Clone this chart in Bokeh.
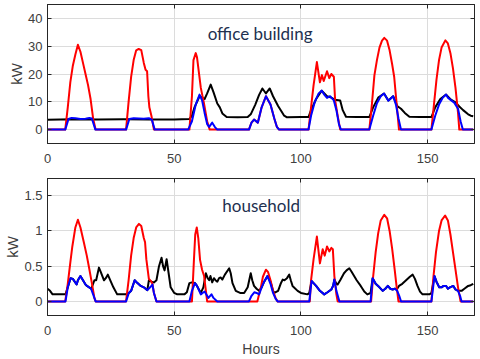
from bokeh.plotting import figure
from bokeh.layouts import column
from bokeh.models import (Range1d, FixedTicker, LinearAxis, Label, NumeralTickFormatter,
                          CustomJSTickFormatter)
from bokeh.embed import file_html
from bokeh.resources import INLINE

# ---------------- data ----------------
hour_ticks = [0, 50, 100, 150]
office_ticks = [0, 10, 20, 30, 40]
household_ticks = [0, 0.5, 1, 1.5]
panel_titles = ["office building", "household"]

# office building: load (black)
office_load_h = [0, 10, 20, 30, 40, 50, 56, 57, 58, 60, 62, 63, 64.4, 65.5, 67, 68, 69, 70.7, 75, 79,
                 80.2, 82, 83.5, 84.8, 86.2, 87.7, 89, 91, 93.4, 94.5, 100, 103, 104, 106, 108.2, 110.3,
                 112, 113.5, 115.5, 116.5, 117.8, 122, 127, 128.5, 130.5, 132.8, 134.5, 136.4, 138,
                 139.5, 141, 142.8, 147, 151.5, 153, 155, 157.3, 159.2, 161, 162.5, 164, 166, 167, 168]
office_load_kw = [3.5, 3.7, 3.6, 3.7, 3.6, 3.6, 3.8, 5, 8, 12, 11, 13, 16.2, 13.5, 9.4, 8, 5.8, 4.5, 4.4, 4.5,
                  5.5, 9, 12.5, 14.8, 13, 14.8, 12, 8.5, 5, 4.4, 4.5, 4.5, 7, 11, 14, 12,
                  11.5, 10.7, 10.5, 7, 4.6, 4.5, 4.5, 8, 11.5, 13, 10.5, 12, 8.5,
                  7.5, 6, 4.6, 4.5, 4.5, 8, 11, 12.6, 10.8, 9.8, 8.3, 7, 5.5, 5, 4.8]

# office building: PV generation (red)
office_pv_h = [0, 7, 8, 9, 10, 11, 12, 13, 14, 15, 16, 17, 18, 19,
               31, 32, 33, 34, 35, 36, 37, 38, 38.7, 39.3, 39.8, 40.2, 41, 42,
               56, 57, 57.6, 58.5, 59, 60.5, 61.7, 63, 64,
               79.5, 80.5, 81.5, 83, 84.5, 86.2, 88, 89.5, 90.5, 91.4,
               103, 104, 105, 106.3, 107.5, 108.3, 109, 110.3, 111.2, 112, 113, 113.5, 114.5, 115.5,
               127, 128, 129, 130, 131, 132, 132.9, 134, 135, 136, 136.8, 137.5, 138, 138.7,
               151.5, 152.5, 153.5, 154.5, 155.5, 157, 158, 159, 160, 161, 162, 162.5, 168]
office_pv_kw = [0, 0, 8, 17, 23, 27, 30.5, 28, 24, 20, 16, 11, 4, 0,
                0, 10, 19, 25, 28.5, 29, 28.6, 24, 21.5, 21, 12, 8, 5, 0,
                0, 12, 25, 27.5, 26, 15, 9.7, 3, 0,
                0, 2.5, 3.6, 2.5, 8, 12, 9, 4, 1, 0,
                0, 8, 16, 24.3, 17, 19.6, 17.5, 21, 18.5, 20, 19, 10.6, 5, 0,
                0, 9, 19.5, 25, 29.5, 32, 33, 32, 28.5, 23.5, 19, 12, 7, 0,
                0, 9, 18, 25, 29.5, 32.1, 31, 27.5, 22, 15, 6, 0, 0]

# office building: self-consumption (blue)
office_self_h = [0, 7, 8.3, 9.5, 11, 13, 15, 16.5, 17.5, 18.9,
                 31, 32.3, 34, 36, 38, 40, 41.2, 42.3,
                 55.5, 57, 58.5, 60, 61, 62, 63, 63.8, 65, 66, 67,
                 79.5, 80.5, 81.5, 83, 84.5, 86.2, 88, 89.5, 90.5, 91.4,
                 103, 104, 105.5, 107, 108.2, 109.3, 110.3, 111.5, 113, 114, 115, 115.8,
                 127, 128.5, 130, 131.5, 132.8, 134.5, 136.4, 137.5, 138.5, 139.5,
                 151.5, 153, 154.5, 156, 157.3, 158, 159.2, 160.5, 162, 163, 163.9, 168]
office_self_kw = [0, 0, 3.8, 4.2, 4.1, 3.8, 3.9, 4.2, 4, 0,
                  0, 3.8, 4.1, 4, 3.9, 4.1, 3.5, 0,
                  0, 3, 9, 12.6, 10.5, 6, 2, 1, 2.5, 1, 0,
                  0, 2.5, 3.6, 2.5, 8, 12, 9, 4, 1, 0,
                  0, 5, 10, 13, 14, 12.5, 11.4, 12, 10.5, 7, 2, 0,
                  0, 5, 9.5, 12, 13, 10.4, 12, 9, 4, 0,
                  0, 5, 9, 11.5, 12.6, 11.5, 10.6, 9.7, 7.5, 3, 0, 0]

# household: load (black)
house_load_h = [0, 1, 2, 4, 7.1, 8, 9.1, 10, 11.5, 12, 13, 14, 15, 15.6, 17.2, 17.7, 18.5, 19.2, 20.3, 21,
                22.3, 23, 23.8, 25, 26, 27.5, 29, 31, 32.1, 33, 34.4, 35.5, 36.8, 38, 39.4, 40, 41, 42,
                43, 44, 45, 45.6, 46.2, 47, 47.8, 48.6, 50, 51.2, 54, 55, 56, 57, 58.2, 59, 60.5, 61.5,
                62.5, 63.2, 63.8, 64.3, 65, 65.7, 66.3, 67, 67.7, 68.3, 69, 70, 71.7, 72.3, 73, 74.3,
                76, 77.6, 79, 80.2, 80.8, 81.5, 82.5, 83.5, 84.5, 85.5, 86.8, 88, 89, 89.5, 91, 92,
                92.8, 93.5, 94.5, 95.4, 96, 96.7, 98.7, 100, 102.6, 103.3, 104.2, 105, 106, 107.5,
                109.2, 110.5, 112, 112.7, 113.2, 114, 114.5, 115.5, 117, 118, 119.1, 120, 121, 122,
                123.6, 125, 126.2, 127.5, 128.3, 129.5, 131, 132.3, 133.3, 134.3, 135.3, 136.2, 137,
                138, 138.7, 140, 141.5, 143, 144.1, 145, 146, 147, 148, 150.7, 151.5, 152.7, 153.5,
                154.6, 155.5, 156.3, 157.3, 158, 158.8, 160.1, 161, 162, 163.4, 164.5, 166, 167, 168]
house_load_kw = [0.18, 0.15, 0.1, 0.1, 0.1, 0.2, 0.33, 0.32, 0.24, 0.3, 0.36, 0.3, 0.24, 0.22, 0.18, 0.22, 0.3, 0.3, 0.48, 0.42,
                 0.3, 0.33, 0.38, 0.28, 0.2, 0.1, 0.1, 0.1, 0.12, 0.15, 0.3, 0.26, 0.22, 0.2, 0.16, 0.3, 0.28, 0.27,
                 0.3, 0.5, 0.62, 0.5, 0.44, 0.6, 0.4, 0.2, 0.12, 0.1, 0.1, 0.13, 0.26, 0.27, 0.26, 0.22, 0.12, 0.2,
                 0.4, 0.33, 0.3, 0.36, 0.27, 0.33, 0.3, 0.28, 0.33, 0.34, 0.31, 0.38, 0.47, 0.4, 0.26, 0.15,
                 0.12, 0.12, 0.2, 0.4, 0.3, 0.22, 0.18, 0.15, 0.2, 0.28, 0.36, 0.28, 0.15, 0.12, 0.15, 0.25,
                 0.31, 0.3, 0.33, 0.38, 0.3, 0.22, 0.15, 0.12, 0.1, 0.12, 0.29, 0.26, 0.22, 0.15,
                 0.1, 0.13, 0.17, 0.22, 0.31, 0.25, 0.24, 0.3, 0.4, 0.44, 0.47, 0.42, 0.36, 0.3,
                 0.22, 0.14, 0.1, 0.12, 0.33, 0.25, 0.2, 0.15, 0.18, 0.22, 0.18, 0.17, 0.18,
                 0.18, 0.22, 0.25, 0.3, 0.35, 0.38, 0.32, 0.22, 0.14, 0.1, 0.1, 0.12, 0.36, 0.28,
                 0.2, 0.2, 0.22, 0.22, 0.18, 0.2, 0.22, 0.17, 0.15, 0.15, 0.18, 0.22, 0.23, 0.25]

# household: PV generation (red)
house_pv_h = [0, 7, 8, 9, 9.8, 11, 12, 13, 14.4, 15.5, 16.3, 17.7, 18.5, 19,
              31, 32, 33, 34, 35, 36.1, 37, 38, 38.5, 39, 40, 41, 41.4, 42, 43,
              57, 57.8, 58.3, 58.9, 59.5, 60.2, 61, 61.8, 62.5, 63,
              82.8, 83.5, 84.2, 85, 86.2, 87, 88, 89, 90, 90.8,
              103.5, 104, 105, 106.3, 107, 107.5, 108.6, 109.4, 110.3, 111.2, 112, 112.6, 113.2, 114, 114.5,
              127.7, 128.5, 129.5, 130.5, 131.5, 132.9, 134, 135, 136, 137, 137.8, 138.5,
              151.5, 152.3, 153.3, 154.5, 155.5, 156.9, 158, 159, 160, 161, 162, 163, 168]
house_pv_kw = [0, 0, 0.25, 0.55, 0.78, 1.05, 1.16, 1.05, 0.83, 0.65, 0.5, 0.22, 0.05, 0,
               0, 0.3, 0.65, 0.9, 1.05, 1.1, 1.07, 0.9, 0.84, 0.6, 0.32, 0.28, 0.25, 0.12, 0,
               0, 0.6, 0.95, 1.05, 0.9, 0.59, 0.45, 0.36, 0.15, 0,
               0, 0.1, 0.2, 0.35, 0.45, 0.42, 0.3, 0.15, 0.05, 0,
               0, 0.3, 0.6, 0.92, 0.7, 0.54, 0.74, 0.65, 0.78, 0.71, 0.76, 0.74, 0.36, 0.1, 0,
               0, 0.35, 0.7, 0.97, 1.15, 1.23, 1.18, 1.0, 0.75, 0.45, 0.2, 0,
               0, 0.35, 0.7, 1.0, 1.15, 1.22, 1.15, 0.95, 0.7, 0.45, 0.2, 0, 0]

# household: self-consumption (blue)
house_self_h = [0, 7.1, 8, 9.1, 10, 11.5, 12, 13, 14, 15, 15.6, 17.2, 18, 19,
                31, 32.1, 33, 34.4, 35.5, 36.8, 38, 39.4, 40.5, 41.4, 42, 43,
                56, 57, 58.2, 59, 60.5, 61.2, 62, 63, 63.5, 64.7, 65.5, 67,
                79.5, 80.5, 81.6, 82.5, 83.5, 84.5, 85.5, 86.8, 88, 89, 90, 90.8,
                103.3, 104.2, 105, 106, 107.5, 109.2, 110.5, 112, 112.7, 113.2, 114, 115.2,
                127.5, 128.3, 129.5, 131, 132.3, 133.3, 134.3, 135.3, 136.2, 137, 138, 138.8, 139.5,
                151.5, 152.7, 153.5, 154.6, 155.5, 156.3, 157.3, 158, 158.8, 160.1, 161, 162, 162.8, 163.4, 168]
house_self_kw = [0, 0, 0.2, 0.33, 0.32, 0.24, 0.3, 0.36, 0.3, 0.24, 0.22, 0.18, 0.1, 0,
                 0, 0.12, 0.15, 0.3, 0.26, 0.22, 0.2, 0.16, 0.2, 0.24, 0.12, 0,
                 0, 0.15, 0.26, 0.22, 0.1, 0.12, 0.14, 0.08, 0.05, 0.1, 0.05, 0,
                 0, 0.08, 0.13, 0.12, 0.1, 0.2, 0.28, 0.36, 0.25, 0.12, 0.04, 0,
                 0, 0.29, 0.26, 0.22, 0.15, 0.1, 0.13, 0.17, 0.22, 0.31, 0.15, 0,
                 0, 0.33, 0.25, 0.2, 0.15, 0.18, 0.22, 0.18, 0.17, 0.18, 0.15, 0.08, 0,
                 0, 0.36, 0.28, 0.2, 0.2, 0.22, 0.22, 0.18, 0.2, 0.22, 0.17, 0.15, 0.08, 0, 0]

# ---------------- styling ----------------
AX = "#262626"
LBL = "#404040"
TICK_FONT = "Liberation Sans"


def style_axis(ax):
    ax.major_tick_in = 4
    ax.major_tick_out = 0
    ax.minor_tick_line_color = None
    ax.axis_line_color = AX
    ax.major_tick_line_color = AX
    ax.major_label_text_color = LBL
    ax.major_label_text_font = TICK_FONT
    ax.major_label_text_font_size = "13px"
    ax.major_label_text_font_style = "normal"


def make_panel(height, border_top, border_bottom, y_range, yticks, series, title, title_pos, xlabel=None):
    p = figure(width=480, height=height, output_backend="svg", toolbar_location=None,
               x_range=Range1d(0, 168.5), y_range=Range1d(*y_range),
               min_border_left=47, min_border_right=6,
               min_border_top=border_top, min_border_bottom=border_bottom)
    p.background_fill_color = "white"
    p.border_fill_color = "white"
    p.outline_line_color = AX
    p.outline_line_width = 1
    xax = p.below[0]
    yax = p.left[0]
    xax.ticker = FixedTicker(ticks=hour_ticks)
    yax.ticker = FixedTicker(ticks=yticks)
    yax.formatter = NumeralTickFormatter(format="0.[0]")
    p.xgrid.ticker = FixedTicker(ticks=hour_ticks)
    p.ygrid.ticker = FixedTicker(ticks=yticks)
    for g in (p.xgrid, p.ygrid):
        g.grid_line_color = "#dcdcdc"
        g.grid_line_width = 1
    style_axis(xax)
    style_axis(yax)
    xax.major_label_standoff = 10
    yax.major_label_standoff = 5
    yax.axis_label = "kW"
    yax.axis_label_standoff = 0
    yax.axis_label_text_font = TICK_FONT
    yax.axis_label_text_font_size = "15px"
    yax.axis_label_text_font_style = "normal"
    yax.axis_label_text_color = LBL
    if xlabel:
        xax.axis_label = xlabel
        xax.axis_label_standoff = 3
        xax.axis_label_text_font = TICK_FONT
        xax.axis_label_text_font_size = "14px"
        xax.axis_label_text_font_style = "normal"
        xax.axis_label_text_color = LBL

    # mirrored ticks on top and right (box style), no labels
    blank = CustomJSTickFormatter(code="return ''")
    top_ax = LinearAxis(ticker=FixedTicker(ticks=hour_ticks), formatter=blank)
    right_ax = LinearAxis(ticker=FixedTicker(ticks=yticks), formatter=blank)
    for ax in (top_ax, right_ax):
        style_axis(ax)
        ax.major_label_standoff = 0
    p.add_layout(top_ax, "above")
    p.add_layout(right_ax, "right")

    for (xs, ys, col) in series:
        p.line(xs, ys, line_color=col, line_width=2, line_join="round")

    p.add_layout(Label(x=title_pos[0], y=title_pos[1], text=title, text_font="Lato",
                       text_font_size="17px", text_color="#22304f", text_baseline="middle"))
    return p


p1 = make_panel(170, 4, 27, (-5, 45), office_ticks,
                [(office_load_h, office_load_kw, "black"),
                 (office_pv_h, office_pv_kw, "red"),
                 (office_self_h, office_self_kw, "blue")],
                panel_titles[0], (63.2, 34.7))
p2 = make_panel(189, 8, 43, (-0.2, 1.745), household_ticks,
                [(house_load_h, house_load_kw, "black"),
                 (house_pv_h, house_pv_kw, "red"),
                 (house_self_h, house_self_kw, "blue")],
                panel_titles[1], (69.0, 1.36), xlabel="Hours")

layout = column(p1, p2, spacing=0,
                styles={"position": "absolute", "left": "0px", "top": "0px"})
open("out.html", "w").write(file_html(layout, INLINE))
